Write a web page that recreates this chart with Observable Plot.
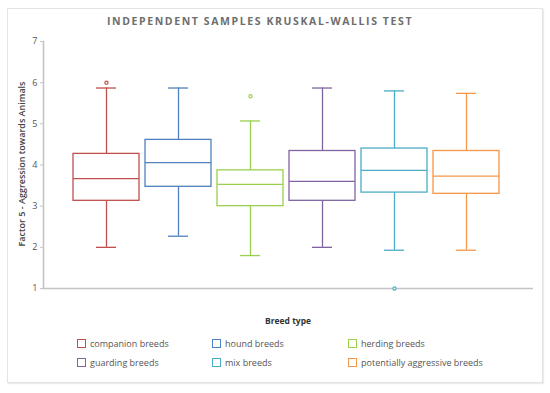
<!DOCTYPE html>
<html>
<head>
<meta charset="utf-8">
<script src="https://cdn.jsdelivr.net/npm/d3@7"></script>
<script src="https://cdn.jsdelivr.net/npm/@observablehq/plot@0.6"></script>
<style>
  html, body { margin: 0; padding: 0; background: #fff; }
  #wrap { position: relative; width: 550px; height: 393px; overflow: hidden; font-family: "Open Sans", "Noto Sans", sans-serif; }
  #frame { position: absolute; left: 7px; top: 8px; width: 534px; height: 373px; border: 1px solid #e4e4e4; box-shadow: 1px 1px 1px #ececec; }
  #title { position: absolute; left: 0; width: 520px; top: 14px; text-align: center; font-size: 10.5px; font-weight: 700; letter-spacing: 1.6px; color: #6e6e6e; }
  #chart { position: absolute; left: 0; top: 0; }
  #ylabel { position: absolute; left: 21px; top: 164px; transform: translate(-50%, -50%) rotate(-90deg); white-space: nowrap; font-size: 9px; font-weight: 600; color: #444; }
  #xlabel { position: absolute; left: 288px; top: 315px; transform: translateX(-50%); font-size: 8.5px; font-weight: 700; color: #333; }
  .item { position: absolute; font-size: 9px; color: #555; white-space: nowrap; line-height: 10px; }
  .item span.sw { display: inline-block; width: 7px; height: 7px; border: 1px solid; vertical-align: -1px; margin-right: 4px; }
</style>
</head>
<body>
<div id="wrap">
  <div id="frame"></div>
  <div id="title">INDEPENDENT SAMPLES KRUSKAL-WALLIS TEST</div>
  <div id="chart"></div>
  <div id="ylabel">Factor 5 - Aggression towards Animals</div>
  <div id="xlabel">Breed type</div>
  <div id="legend"></div>
</div>
<script>
const breeds = ["companion breeds", "hound breeds", "herding breeds", "guarding breeds", "mix breeds", "potentially aggressive breeds"];
const colors = ["#c0504d", "#4f81bd", "#9bd04f", "#8064a2", "#4bacc6", "#f79646"];
const whiskerLow = [2.0, 2.27, 1.8, 2.0, 1.93, 1.93];
const q1 = [3.13, 3.47, 3.0, 3.13, 3.33, 3.30];
const median = [3.67, 4.06, 3.53, 3.60, 3.87, 3.73];
const q3 = [4.27, 4.61, 3.87, 4.34, 4.40, 4.34];
const whiskerHigh = [5.87, 5.87, 5.07, 5.87, 5.80, 5.74];
const outlierBreed = ["companion breeds", "herding breeds", "mix breeds"];
const outlierValue = [6.0, 5.67, 1.0];
const yTicks = [1, 2, 3, 4, 5, 6, 7];

const rows = breeds.map((b, i) => ({breed: b, lo: whiskerLow[i], q1: q1[i], med: median[i], q3: q3[i], hi: whiskerHigh[i]}));
const outliers = outlierBreed.map((b, i) => ({breed: b, value: outlierValue[i]}));

const plot = Plot.plot({
  width: 550,
  height: 300,
  marginLeft: 43,
  marginRight: 17,
  marginTop: 41,
  marginBottom: 12,
  style: {fontFamily: "'Open Sans', 'Noto Sans', sans-serif", fontSize: "9px", color: "#555", background: "transparent"},
  x: {domain: breeds, paddingInner: 0.09, paddingOuter: 0.445, align: 0.46, axis: null},
  y: {domain: [1, 7]},
  color: {domain: breeds, range: colors},
  marks: [
    Plot.ruleY([1], {stroke: "#c4c4c4", strokeWidth: 1.6, dx: 0}),
    Plot.frame({anchor: "left", stroke: "#c4c4c4", strokeWidth: 1.6}),
    Plot.axisY({ticks: yTicks, tickSize: 3, tickPadding: 3, stroke: "#c4c4c4", fill: "#555", label: null, tickFormat: d3.format("d")}),
    Plot.ruleX(rows, {x: "breed", y1: "lo", y2: "q1", stroke: "breed", strokeWidth: 1.3}),
    Plot.ruleX(rows, {x: "breed", y1: "q3", y2: "hi", stroke: "breed", strokeWidth: 1.3}),
    Plot.tickY(rows, {x: "breed", y: "lo", stroke: "breed", strokeWidth: 1.3, insetLeft: 23, insetRight: 23}),
    Plot.tickY(rows, {x: "breed", y: "hi", stroke: "breed", strokeWidth: 1.3, insetLeft: 23, insetRight: 23}),
    Plot.barY(rows, {x: "breed", y1: "q1", y2: "q3", fill: "white", stroke: "breed", strokeWidth: 1.3}),
    Plot.tickY(rows, {x: "breed", y: "med", stroke: "breed", strokeWidth: 1.3}),
    Plot.dot(outliers, {x: "breed", y: "value", r: 1.6, stroke: "breed", fill: "white", strokeWidth: 1.2})
  ]
});
document.getElementById("chart").appendChild(plot);

// legend (HTML, below/around the plot)
const legend = document.getElementById("legend");
const colX = [77, 212, 348];
const rowY = [339, 358];
breeds.forEach((b, i) => {
  const d = document.createElement("div");
  d.className = "item";
  d.style.left = colX[i % 3] + "px";
  d.style.top = rowY[Math.floor(i / 3)] + "px";
  d.innerHTML = `<span class="sw" style="border-color:${colors[i]}"></span>${b}`;
  legend.appendChild(d);
});
</script>
</body>
</html>
